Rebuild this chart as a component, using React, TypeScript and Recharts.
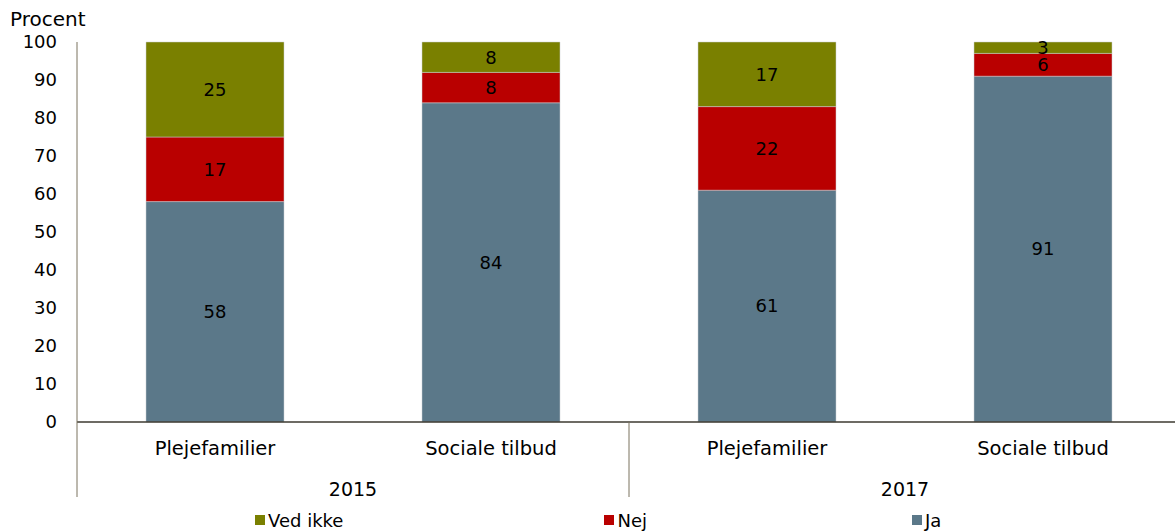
import React from "react";
import { BarChart, Bar, XAxis, YAxis, LabelList, Legend } from "recharts";

const categories = ["Plejefamilier", "Sociale tilbud", "Plejefamilier", "Sociale tilbud"];
const years = ["2015", "2015", "2017", "2017"];
const jaValues = [58, 84, 61, 91];
const nejValues = [17, 8, 22, 6];
const vedIkkeValues = [25, 8, 17, 3];
const yTicks = [0, 10, 20, 30, 40, 50, 60, 70, 80, 90, 100];

const legendItems = [
  { key: "vedIkke", name: "Ved ikke", color: "#7a8000" },
  { key: "nej", name: "Nej", color: "#b90000" },
  { key: "ja", name: "Ja", color: "#5b7889" },
];

const data = categories.map((c, i) => ({
  cat: c,
  year: years[i],
  ja: jaValues[i],
  nej: nejValues[i],
  vedIkke: vedIkkeValues[i],
}));

const FONT = "'DejaVu Sans', Verdana, sans-serif";

function CategoryTick(props: any) {
  const { x, y, payload } = props;
  return (
    <text x={x} y={y + 26} textAnchor="middle" dominantBaseline="central" fontFamily={FONT} fontSize={19.5} fill="#000">
      {payload.value}
    </text>
  );
}

function YearTick(props: any) {
  const { x, y, payload } = props;
  const off = payload && payload.offset ? payload.offset : 0;
  return (
    <g>
      <line x1={x - off} x2={x - off} y1={y - 40} y2={y + 35} stroke="#7a735f" strokeWidth={1} />
      <text x={x} y={y + 27} textAnchor="middle" dominantBaseline="central" fontFamily={FONT} fontSize={19} fill="#000">
        {payload.value}
      </text>
    </g>
  );
}

function LegendContent() {
  const gaps = [261, 265, 0];
  return (
    <div style={{ display: "flex", alignItems: "center", height: 30, paddingLeft: 255, paddingTop: 8, boxSizing: "border-box", fontFamily: FONT, fontSize: 18, color: "#000" }}>
      {legendItems.map((it, i) => (
        <div key={it.key} style={{ display: "flex", alignItems: "center", marginRight: gaps[i] }}>
          <span style={{ display: "inline-block", width: 10, height: 10, background: it.color, marginRight: 3 }} />
          <span>{it.name}</span>
        </div>
      ))}
    </div>
  );
}

export default function App() {
  return (
    <div style={{ position: "absolute", left: 0, top: 0, width: 1175, height: 531, overflow: "hidden", background: "#fff" }}>
      <div style={{ position: "absolute", left: 10, top: 8, fontFamily: FONT, fontSize: 20, lineHeight: "22px", color: "#000" }}>
        Procent
      </div>
      <BarChart
        width={1181}
        height={531}
        data={data}
        margin={{ top: 42, right: 0, bottom: 0, left: 0 }}
        barCategoryGap="25%"
      >
        <XAxis
          dataKey="cat"
          height={40}
          tickLine={false}
          tickSize={0}
          tickMargin={0}
          axisLine={{ stroke: "#3d3a30", strokeWidth: 1.5 }}
          tick={<CategoryTick />}
          interval={0}
        />
        <XAxis
          xAxisId="year"
          dataKey="year"
          allowDuplicatedCategory={false}
          height={39}
          tickLine={false}
          tickSize={0}
          tickMargin={0}
          axisLine={false}
          tick={<YearTick />}
          interval={0}
        />
        <YAxis
          width={77}
          domain={[0, 100]}
          ticks={yTicks}
          interval={0}
          tickLine={false}
          tickSize={0}
          tickMargin={20}
          axisLine={{ stroke: "#7a735f" }}
          tick={{ fontFamily: FONT, fontSize: 18, fill: "#000" }}
        />
        <Legend verticalAlign="bottom" height={30} content={<LegendContent />} wrapperStyle={{ left: 0, width: 1181 }} />
        <Bar dataKey="ja" name="Ja" stackId="a" fill="#5b7889" stroke="#c8ccd0" strokeWidth={0.5} isAnimationActive={false}>
          <LabelList dataKey="ja" position="center" fill="#000" fontFamily={FONT} fontSize={18} />
        </Bar>
        <Bar dataKey="nej" name="Nej" stackId="a" fill="#b90000" stroke="#c8ccd0" strokeWidth={0.5} isAnimationActive={false}>
          <LabelList dataKey="nej" position="center" fill="#000" fontFamily={FONT} fontSize={18} />
        </Bar>
        <Bar dataKey="vedIkke" name="Ved ikke" stackId="a" fill="#7a8000" stroke="#c8ccd0" strokeWidth={0.5} isAnimationActive={false}>
          <LabelList dataKey="vedIkke" position="center" fill="#000" fontFamily={FONT} fontSize={18} />
        </Bar>
      </BarChart>
    </div>
  );
}
